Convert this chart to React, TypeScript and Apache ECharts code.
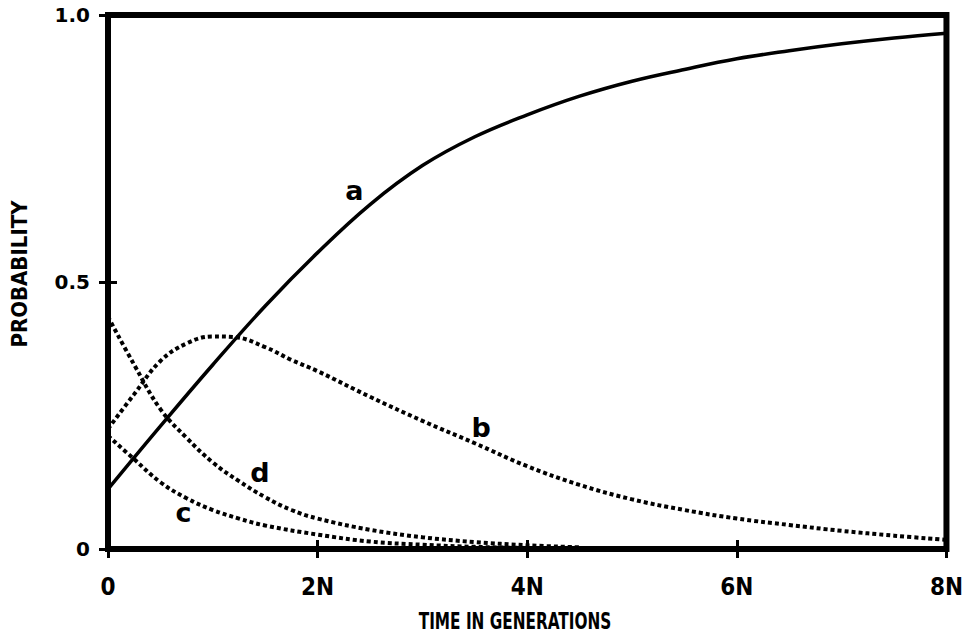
import React, { useEffect, useRef } from "react";
import * as echarts from "echarts";

// Time in units of N generations
const xTicks = [0, 2, 4, 6, 8];
const yTicks = [0, 0.5, 1.0];

const aTimes = [0, 0.5, 1, 1.5, 2, 2.5, 3, 3.5, 4, 4.5, 5, 5.5, 6, 6.5, 7, 7.5, 8];
const aValues = [0.112, 0.23, 0.345, 0.455, 0.555, 0.645, 0.718, 0.772, 0.813, 0.848, 0.876, 0.898, 0.918, 0.933, 0.946, 0.957, 0.966];

const bTimes = [0, 0.25, 0.5, 0.75, 1, 1.2, 1.5, 1.75, 2, 2.5, 3, 3.5, 4, 4.5, 5, 5.5, 6, 6.5, 7, 7.5, 8];
const bValues = [0.225, 0.29, 0.352, 0.385, 0.398, 0.397, 0.378, 0.354, 0.333, 0.285, 0.24, 0.198, 0.155, 0.12, 0.093, 0.073, 0.057, 0.045, 0.034, 0.025, 0.017];

const cTimes = [0, 0.25, 0.5, 0.75, 1, 1.25, 1.5, 2, 2.5, 3, 3.5, 4, 4.5];
const cValues = [0.212, 0.168, 0.125, 0.095, 0.073, 0.057, 0.044, 0.027, 0.014, 0.008, 0.004, 0.002, 0.001];

const dTimes = [0, 0.25, 0.5, 0.75, 1, 1.25, 1.5, 1.75, 2, 2.5, 3, 3.5, 4, 4.5];
const dValues = [0.435, 0.345, 0.262, 0.208, 0.162, 0.127, 0.097, 0.073, 0.057, 0.036, 0.022, 0.013, 0.007, 0.003];

const curveNames = ["a", "b", "c", "d"];
const labelTimes = [2.35, 3.56, 0.72, 1.45];
const labelValues = [0.672, 0.227, 0.069, 0.144];

const xAxisTitle = "TIME IN GENERATIONS";
const yAxisTitle = "PROBABILITY";

const narrow = '"DejaVu Sans Condensed", "Liberation Sans Narrow", "Liberation Sans", sans-serif';
const wide = '"DejaVu Sans", "Liberation Sans", sans-serif';

function pairs(t: number[], v: number[]) {
  return t.map((x, i) => [x, v[i]]);
}

export default function App() {
  const ref = useRef<HTMLDivElement>(null);
  useEffect(() => {
    if (!ref.current) return;
    const chart = echarts.init(ref.current, undefined, { renderer: "svg" });
    const dotted = { color: "#000", width: 4, type: [4, 3] as any, cap: "butt" as any };
    const mk = (i: number) => ({
      symbol: "circle",
      symbolSize: 0,
      silent: true,
      label: {
        show: true,
        position: "inside",
        formatter: curveNames[i],
        color: "#000",
        fontSize: 27,
        fontWeight: "bold",
        fontFamily: wide,
      },
      data: [{ coord: [labelTimes[i], labelValues[i]] }],
    });
    const seriesData = [
      pairs(aTimes, aValues),
      pairs(bTimes, bValues),
      pairs(cTimes, cValues),
      pairs(dTimes, dValues),
    ];
    const tick = { show: true, inside: true, length: 9, lineStyle: { color: "#000", width: 3 } };
    chart.setOption({
      animation: false,
      backgroundColor: "#fff",
      grid: {
        left: 103,
        right: 17,
        top: 15,
        bottom: 87,
        show: true,
        borderColor: "#000",
        borderWidth: 6,
        backgroundColor: "transparent",
      },
      graphic: [
        {
          type: "text",
          x: 515,
          y: 621,
          scaleX: 0.74,
          originX: 0,
          originY: 0,
          style: {
            text: xAxisTitle,
            fill: "#000",
            fontSize: 23,
            fontWeight: "bold",
            fontFamily: narrow,
            align: "center",
            verticalAlign: "middle",
          },
        },
      ],
      xAxis: [
        {
          type: "value",
          position: "bottom",
          min: xTicks[0],
          max: xTicks[xTicks.length - 1],
          interval: 2,
          splitLine: { show: false },
          axisLine: { show: false },
          axisTick: tick,
          axisLabel: {
            margin: 26,
            color: "#000",
            fontSize: 24,
            fontWeight: "bold",
            fontFamily: narrow,
            formatter: (v: number) => (v === 0 ? "0" : `${v}N`),
          },
        },
        {
          type: "value",
          position: "top",
          min: xTicks[0],
          max: xTicks[xTicks.length - 1],
          interval: 2,
          splitLine: { show: false },
          axisLine: { show: false },
          axisTick: tick,
          axisLabel: { show: false },
        },
      ],
      yAxis: [
        {
          type: "value",
          position: "left",
          min: yTicks[0],
          max: yTicks[yTicks.length - 1],
          interval: 0.5,
          splitLine: { show: false },
          axisLine: { show: false },
          axisTick: tick,
          axisLabel: {
            margin: 18,
            color: "#000",
            fontSize: 20,
            fontWeight: "bold",
            fontFamily: wide,
            formatter: (v: number) => (v === 0 ? "0" : v.toFixed(1)),
          },
          name: yAxisTitle,
          nameLocation: "middle",
          nameGap: 78,
          nameTextStyle: { color: "#000", fontSize: 22, fontWeight: "bold", fontFamily: narrow, padding: [0, 0, 0, 16] },
        },
        {
          type: "value",
          position: "right",
          min: yTicks[0],
          max: yTicks[yTicks.length - 1],
          interval: 0.5,
          splitLine: { show: false },
          axisLine: { show: false },
          axisTick: tick,
          axisLabel: { show: false },
        },
      ],
      series: [
        {
          name: "a",
          type: "line",
          data: seriesData[0],
          smooth: 0.4,
          showSymbol: false,
          lineStyle: { color: "#000", width: 3.5 },
          markPoint: mk(0),
        },
        {
          name: "b",
          type: "line",
          data: seriesData[1],
          smooth: 0.4,
          showSymbol: false,
          lineStyle: dotted,
          markPoint: mk(1),
        },
        {
          name: "c",
          type: "line",
          data: seriesData[2],
          smooth: 0.4,
          showSymbol: false,
          lineStyle: dotted,
          markPoint: mk(2),
        },
        {
          name: "d",
          type: "line",
          data: seriesData[3],
          smooth: 0.4,
          showSymbol: false,
          lineStyle: dotted,
          markPoint: mk(3),
        },
      ],
    });
    return () => chart.dispose();
  }, []);
  return (
    <div
      ref={ref}
      style={{ position: "absolute", left: 0, top: 0, width: 966, height: 636, background: "#fff" }}
    />
  );
}
